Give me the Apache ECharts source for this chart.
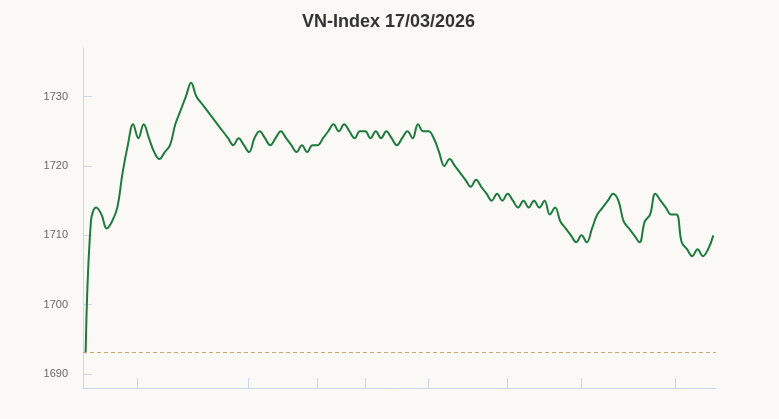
<!DOCTYPE html>
<html>
<head>
<meta charset="utf-8">
<script src="https://cdn.jsdelivr.net/npm/echarts@6/dist/echarts.min.js"></script>
<style>
html,body{margin:0;padding:0;background:#faf9f6;}
#chart{width:779px;height:419px;}
</style>
</head>
<body>
<div id="chart"></div>
<script>
var titleText = "VN-Index 17/03/2026";
var indexValues = [
  1693,1712,1714,1713,1711,1712,1714,1719,1723,1726,
  1724,1726,1724,1722,1721,1722,1723,1726,1728,1730,
  1732,1730,1729,1728,1727,1726,1725,1724,1723,1724,
  1723,1722,1724,1725,1724,1723,1724,1725,1724,1723,
  1722,1723,1722,1723,1723,1724,1725,1726,1725,1726,
  1725,1724,1725,1725,1724,1725,1724,1725,1724,1723,
  1724,1725,1724,1726,1725,1725,1724,1722,1720,1721,
  1720,1719,1718,1717,1718,1717,1716,1715,1716,1715,
  1716,1715,1714,1715,1714,1715,1714,1715,1713,1714,
  1712,1711,1710,1709,1710,1709,1711,1713,1714,1715,
  1716,1715,1712,1711,1710,1709,1712,1713,1716,1715,
  1714,1713,1713,1709,1708,1707,1708,1707,1708,1710
];
// x position of each reading = its index in the session
var xTickValues = [9.75, 30.75, 44, 53, 65, 79.9, 94, 111.75];
var yTickValues = [1690, 1700, 1710, 1720, 1730];
var yMin = 1688, yMax = 1737;
var refValue = 1693.2;

var seriesData = indexValues.map(function(v, i){ return [i, v]; });

var chart = echarts.init(document.getElementById('chart'), null, {renderer:'canvas'});
chart.setOption({
  backgroundColor: '#faf9f6',
  animation: false,
  title: {
    text: titleText,
    left: 297,
    top: 8,
    textStyle: {fontFamily: 'Liberation Sans', fontWeight: 'bold', fontSize: 18, color: '#333333'}
  },
  grid: {left: 83, right: 63, top: 48, bottom: 31},
  xAxis: {
    type: 'value',
    min: -0.5,
    max: indexValues.length - 0.5,
    axisLine: {show: true, onZero: false, lineStyle: {color: '#ccd6eb', width: 1}},
    axisTick: {show: true, inside: true, length: 10, customValues: xTickValues, lineStyle: {color: '#ccd6eb'}},
    axisLabel: {show: false},
    splitLine: {show: false}
  },
  yAxis: {
    type: 'value',
    min: yMin, max: yMax,
    axisLine: {show: true, onZero: false, lineStyle: {color: '#ccd6eb', width: 1}},
    axisTick: {show: true, inside: true, length: 9, customValues: yTickValues, lineStyle: {color: '#ccd6eb'}},
    axisLabel: {
      customValues: yTickValues, margin: 15, color: '#666666', fontSize: 11, fontFamily: 'Liberation Sans',
      formatter: function(v){ return String(v); }
    },
    splitLine: {show: false}
  },
  series: [{
    type: 'line',
    data: seriesData,
    smooth: 0.4,
    showSymbol: false,
    symbol: 'none',
    lineStyle: {color: '#1f7a3e', width: 2},
    markLine: {
      silent: true,
      symbol: ['none', 'none'],
      label: {show: false},
      lineStyle: {color: '#c9a870', type: [4, 3], width: 1},
      data: [{yAxis: refValue}]
    }
  }]
});
</script>
</body>
</html>
